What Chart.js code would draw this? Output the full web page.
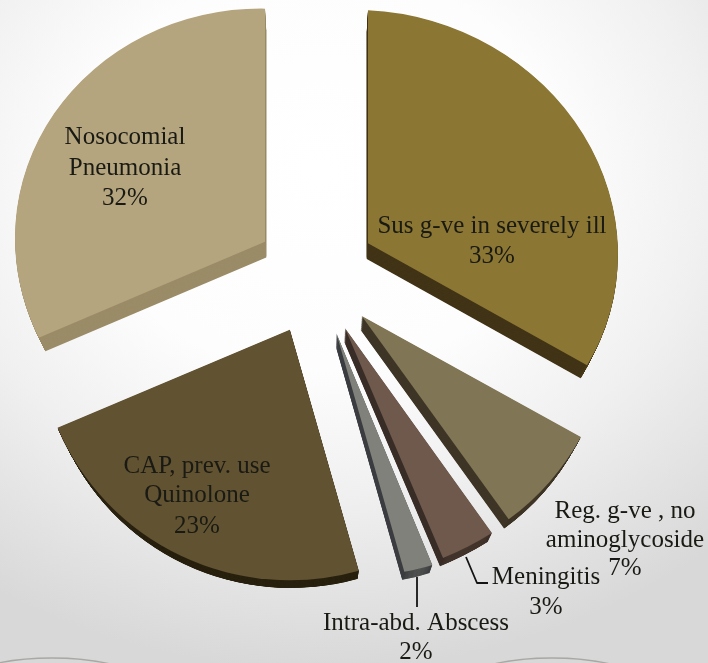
<!DOCTYPE html>
<html>
<head>
<meta charset="utf-8">
<script src="https://cdn.jsdelivr.net/npm/chart.js@4"></script>
<style>
  html, body { margin: 0; padding: 0; width: 708px; height: 663px; overflow: hidden; }
  body { background: radial-gradient(ellipse 600px 500px at 320px 170px, #ffffff 0%, #fdfdfd 40%, #f0f0f0 65%, #d8d8d8 100%); }
  #wrap { position: absolute; left: 0; top: 0; width: 708px; height: 663px; }
</style>
</head>
<body>
<div id="wrap"><canvas id="chart" width="708" height="663"></canvas></div>
<script>
// Antibiotic indication shares
const categories = ['Sus g-ve in severely ill', 'Reg. g-ve , no aminoglycoside', 'Meningitis', 'Intra-abd. Abscess', 'CAP, prev. use Quinolone', 'Nosocomial Pneumonia'];
const shares = [33, 7, 3, 2, 23, 32];

// Slice colours: top face, straight extruded sides, curved front band
const faceColors = ['#8b7733', '#807554', '#6e594c', '#7f817a', '#615231', '#b5a57e'];
const sideColors = ['#423417', '#3e3526', '#3a2e28', '#3c3e40', '#2a2210', '#9b8c68'];
const frontColors = ['#4f3f19', '#3e3526', '#4b3b31', '#5f615c', '#2a2210', '#9b8c68'];

// Distance each slice is pulled out of the pie, and a small screen-space nudge
const explode = [60.4, 61, 62.7, 63.4, 60.8, 60.4];
const nudgeX = [0, 0, -3, -3, -2, 0];
const nudgeY = [0, 1.7, 0, 0, 0, 0];

// Per-slice linear map that imitates the perspective of the tilted pie
const tiltA = [1, 1, 1.145, 0.951, 1.009, 1];
const tiltB = [0, 0, -0.105, -0.023, -0.038, 0];
const tiltC = [0.045, 0, -0.011, 0.141, 0.038, 0.014];
const tiltD = [0.932, 1.005, 1.022, 0.959, 1.001, 0.932];

// Extrusion recedes toward a vanishing point below the pie
const vanish = { x: 316, y: 900, scale: 0.976, steps: 24 };

// Text blocks for each slice
const labelLines = [
  ['Sus g-ve in severely ill', '33%'],
  ['Reg. g-ve , no', 'aminoglycoside', '7%'],
  ['Meningitis', '3%'],
  ['Intra-abd. Abscess', '2%'],
  ['CAP, prev. use', 'Quinolone', '23%'],
  ['Nosocomial', 'Pneumonia', '32%']
];
const labelAnchors = [
  { x: 492, ys: [226, 256] },
  { x: 625, ys: [511, 540, 568] },
  { x: 546, ys: [577, 607] },
  { x: 416, ys: [623, 652] },
  { x: 197, ys: [466, 495, 526] },
  { x: 125, ys: [137, 168, 198] }
];
const leaderLines = [
  [[466, 557], [477, 583], [488, 583]],
  [[417, 577], [417, 607]]
];

function placeSlice(ctx, el, i) {
  const mid = (el.startAngle + el.endAngle) / 2;
  const ax = el.x + Math.cos(mid) * explode[i] + nudgeX[i];
  const ay = el.y + Math.sin(mid) * explode[i] + nudgeY[i];
  ctx.translate(ax, ay);
  ctx.transform(tiltA[i], tiltC[i], tiltB[i], tiltD[i], 0, 0);
  ctx.translate(-el.x, -el.y);
}

const pieDepth = {
  id: 'pieDepth',
  afterDatasetUpdate(chart) {
    chart.getDatasetMeta(0).data.forEach((el, i) => {
      if (el.tiltWrapped) return;
      const base = el.draw;
      el.draw = function (ctx, area) {
        ctx.save();
        placeSlice(ctx, this, i);
        base.call(this, ctx, area);
        ctx.restore();
      };
      el.tiltWrapped = true;
    });
  },
  beforeDatasetsDraw(chart) {
    const ctx = chart.ctx;
    chart.getDatasetMeta(0).data.forEach((el, i) => {
      for (let n = vanish.steps; n >= 1; n--) {
        const s = 1 - (1 - vanish.scale) * n / vanish.steps;
        ctx.save();
        ctx.translate(vanish.x, vanish.y);
        ctx.scale(s, s);
        ctx.translate(-vanish.x, -vanish.y);
        placeSlice(ctx, el, i);
        ctx.fillStyle = sideColors[i];
        ctx.beginPath();
        ctx.moveTo(el.x, el.y);
        ctx.arc(el.x, el.y, el.outerRadius, el.startAngle, el.endAngle);
        ctx.closePath();
        ctx.fill();
        ctx.fillStyle = frontColors[i];
        ctx.beginPath();
        ctx.arc(el.x, el.y, el.outerRadius, el.startAngle, el.endAngle);
        ctx.closePath();
        ctx.fill();
        ctx.restore();
      }
    });
  }
};

const textAndLeaders = {
  id: 'textAndLeaders',
  afterDraw(chart) {
    const ctx = chart.ctx;
    ctx.save();
    ctx.strokeStyle = '#141414';
    ctx.lineWidth = 1.8;
    ctx.lineJoin = 'round';
    leaderLines.forEach(pts => {
      ctx.beginPath();
      pts.forEach((p, k) => k ? ctx.lineTo(p[0], p[1]) : ctx.moveTo(p[0], p[1]));
      ctx.stroke();
    });
    ctx.fillStyle = '#1a1a14';
    ctx.font = '25px "Liberation Serif"';
    ctx.textAlign = 'center';
    ctx.textBaseline = 'middle';
    labelLines.forEach((lines, i) => {
      lines.forEach((line, k) => ctx.fillText(line, labelAnchors[i].x, labelAnchors[i].ys[k]));
    });
    ctx.restore();
  }
};

// Rim arcs of the backdrop along the bottom edge
const backdrop = {
  id: 'backdrop',
  beforeDraw(chart) {
    const ctx = chart.ctx;
    ctx.save();
    ctx.strokeStyle = '#aaa8a4';
    ctx.lineWidth = 1.4;
    [[52, 698], [552, 698]].forEach(a => {
      ctx.beginPath();
      ctx.ellipse(a[0], a[1], 110, 40, 0, Math.PI, 2 * Math.PI);
      ctx.stroke();
    });
    ctx.restore();
  }
};

new Chart(document.getElementById('chart'), {
  type: 'pie',
  data: {
    labels: categories,
    datasets: [{
      data: shares,
      backgroundColor: faceColors,
      borderWidth: 0,
      hoverOffset: 0
    }]
  },
  options: {
    responsive: false,
    animation: false,
    radius: 250,
    layout: { padding: { left: 0, top: 0, right: 76, bottom: 115 } },
    plugins: { legend: { display: false }, tooltip: { enabled: false } }
  },
  plugins: [backdrop, pieDepth, textAndLeaders]
});
</script>
</body>
</html>
